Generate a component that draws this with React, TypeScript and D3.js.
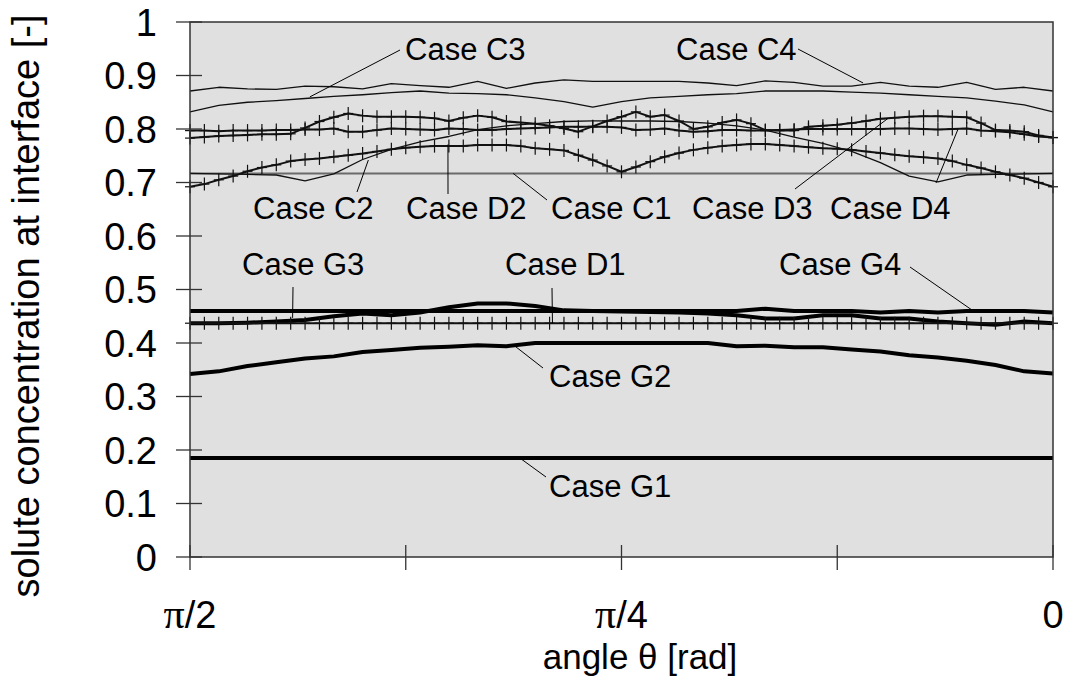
import React, { useRef, useEffect } from 'react';
import * as d3 from 'd3';

// angle grid in degrees (pi/2 on the left, 0 on the right)
const anglesFine = [90, 88.5, 87, 85.5, 84, 82.5, 81, 79.5, 78, 76.5, 75, 73.5, 72, 70.5, 69, 67.5, 66, 64.5, 63, 61.5,
  60, 58.5, 57, 55.5, 54, 52.5, 51, 49.5, 48, 46.5, 45, 43.5, 42, 40.5, 39, 37.5, 36, 34.5, 33, 31.5,
  30, 28.5, 27, 25.5, 24, 22.5, 21, 19.5, 18, 16.5, 15, 13.5, 12, 10.5, 9, 7.5, 6, 4.5, 3, 1.5, 0];
const anglesCoarse = [90, 87, 84, 81, 78, 75, 72, 69, 66, 63, 60, 57, 54, 51, 48, 45, 42, 39, 36, 33,
  30, 27, 24, 21, 18, 15, 12, 9, 6, 3, 0];

// thin lines (coarse grid)
const caseC1 = [0.717, 0.717, 0.717, 0.717, 0.717, 0.717, 0.717, 0.717, 0.717, 0.717, 0.717, 0.717, 0.717, 0.717, 0.717, 0.717,
  0.717, 0.717, 0.717, 0.717, 0.717, 0.717, 0.717, 0.717, 0.717, 0.717, 0.717, 0.717, 0.717, 0.717, 0.717];
const caseC2 = [0.717, 0.716, 0.715, 0.714, 0.703, 0.716, 0.743, 0.762, 0.776, 0.786, 0.799, 0.806, 0.810, 0.814, 0.815, 0.815,
  0.815, 0.814, 0.811, 0.806, 0.798, 0.785, 0.773, 0.758, 0.737, 0.712, 0.701, 0.714, 0.715, 0.716, 0.717];
const caseC3 = [0.832, 0.844, 0.850, 0.853, 0.857, 0.861, 0.864, 0.868, 0.871, 0.867, 0.866, 0.864, 0.858, 0.851, 0.841, 0.851,
  0.858, 0.861, 0.864, 0.866, 0.871, 0.871, 0.871, 0.869, 0.867, 0.864, 0.861, 0.858, 0.852, 0.845, 0.832];
const caseC4 = [0.871, 0.878, 0.875, 0.874, 0.880, 0.879, 0.875, 0.885, 0.881, 0.878, 0.889, 0.876, 0.886, 0.892, 0.889, 0.889,
  0.889, 0.889, 0.886, 0.881, 0.890, 0.887, 0.880, 0.880, 0.887, 0.880, 0.878, 0.887, 0.874, 0.878, 0.871];

// thick lines (coarse grid)
const caseG1 = [0.185, 0.185, 0.185, 0.185, 0.185, 0.185, 0.185, 0.185, 0.185, 0.185, 0.185, 0.185, 0.185, 0.185, 0.185, 0.185,
  0.185, 0.185, 0.185, 0.185, 0.185, 0.185, 0.185, 0.185, 0.185, 0.185, 0.185, 0.185, 0.185, 0.185, 0.185];
const caseG2 = [0.342, 0.347, 0.357, 0.364, 0.371, 0.375, 0.383, 0.387, 0.391, 0.393, 0.396, 0.394, 0.400, 0.400, 0.400, 0.400,
  0.400, 0.400, 0.400, 0.394, 0.395, 0.392, 0.392, 0.388, 0.384, 0.377, 0.373, 0.367, 0.359, 0.347, 0.343];
const caseG3 = [0.437, 0.437, 0.438, 0.440, 0.443, 0.450, 0.455, 0.452, 0.457, 0.467, 0.474, 0.474, 0.469, 0.461, 0.460, 0.459,
  0.458, 0.457, 0.455, 0.452, 0.446, 0.446, 0.452, 0.452, 0.446, 0.446, 0.440, 0.437, 0.434, 0.440, 0.437];
const caseG4 = [0.460, 0.460, 0.460, 0.460, 0.460, 0.460, 0.460, 0.460, 0.460, 0.460, 0.460, 0.460, 0.460, 0.460, 0.460, 0.460,
  0.460, 0.460, 0.460, 0.460, 0.464, 0.460, 0.460, 0.460, 0.457, 0.460, 0.457, 0.460, 0.460, 0.460, 0.457];

// lines with + markers (fine grid)
const caseD1 = [0.437, 0.437, 0.437, 0.437, 0.437, 0.437, 0.437, 0.437, 0.437, 0.437, 0.437, 0.437, 0.437, 0.437, 0.437, 0.437,
  0.437, 0.437, 0.437, 0.437, 0.437, 0.437, 0.437, 0.437, 0.437, 0.437, 0.437, 0.437, 0.437, 0.437, 0.437, 0.437,
  0.437, 0.437, 0.437, 0.437, 0.437, 0.437, 0.437, 0.437, 0.437, 0.437, 0.437, 0.437, 0.437, 0.437, 0.437, 0.437,
  0.437, 0.437, 0.437, 0.437, 0.437, 0.437, 0.437, 0.437, 0.437, 0.437, 0.437, 0.437, 0.437];
const caseD2 = [0.692, 0.697, 0.705, 0.712, 0.721, 0.728, 0.733, 0.740, 0.743, 0.745, 0.748, 0.751, 0.754, 0.758, 0.762, 0.765,
  0.767, 0.768, 0.768, 0.768, 0.770, 0.770, 0.770, 0.768, 0.764, 0.762, 0.760, 0.751, 0.742, 0.731, 0.720, 0.729,
  0.739, 0.748, 0.755, 0.761, 0.765, 0.768, 0.770, 0.772, 0.772, 0.770, 0.768, 0.766, 0.764, 0.763, 0.761, 0.758,
  0.755, 0.752, 0.749, 0.747, 0.745, 0.740, 0.733, 0.727, 0.720, 0.714, 0.708, 0.700, 0.692];
const caseD3 = [0.783, 0.785, 0.787, 0.788, 0.789, 0.790, 0.790, 0.791, 0.802, 0.814, 0.822, 0.829, 0.825, 0.823, 0.823, 0.823,
  0.822, 0.820, 0.815, 0.821, 0.825, 0.822, 0.814, 0.812, 0.810, 0.806, 0.801, 0.795, 0.805, 0.815, 0.823, 0.832,
  0.823, 0.826, 0.815, 0.800, 0.804, 0.812, 0.817, 0.810, 0.798, 0.797, 0.797, 0.804, 0.806, 0.808, 0.811, 0.815,
  0.819, 0.821, 0.823, 0.824, 0.824, 0.823, 0.822, 0.811, 0.798, 0.797, 0.795, 0.788, 0.784];
const caseD4 = [0.797, 0.797, 0.796, 0.797, 0.797, 0.797, 0.798, 0.798, 0.799, 0.799, 0.801, 0.795, 0.795, 0.798, 0.801, 0.800,
  0.799, 0.798, 0.801, 0.800, 0.798, 0.798, 0.800, 0.801, 0.802, 0.803, 0.804, 0.804, 0.804, 0.804, 0.803, 0.798,
  0.799, 0.801, 0.797, 0.795, 0.796, 0.798, 0.798, 0.797, 0.797, 0.798, 0.799, 0.800, 0.800, 0.800, 0.800, 0.800,
  0.800, 0.801, 0.801, 0.800, 0.799, 0.800, 0.801, 0.797, 0.796, 0.794, 0.790, 0.786, 0.784];

const yTicks = [0, 0.1, 0.2, 0.3, 0.4, 0.5, 0.6, 0.7, 0.8, 0.9, 1];
const yTickLabels = ['0', '0.1', '0.2', '0.3', '0.4', '0.5', '0.6', '0.7', '0.8', '0.9', '1'];
const xTicks = [90, 67.5, 45, 22.5, 0];
const xTickLabels = ['π/2', '', 'π/4', '', '0'];

const SANS = '"Liberation Sans", Arial, Helvetica, sans-serif';
const SERIF = '"Liberation Serif", "Times New Roman", serif';

const Chart = () => {
  const ref = useRef<SVGSVGElement>(null);

  useEffect(() => {
    if (!ref.current) return;
    const svg = d3.select(ref.current);
    svg.selectAll('*').remove();

    const left = 190, right = 1053, top = 22, bottom = 557;
    const x = d3.scaleLinear().domain([90, 0]).range([left, right]);
    const y = d3.scaleLinear().domain([0, 1]).range([bottom, top]);

    svg.append('rect')
      .attr('x', left).attr('y', top)
      .attr('width', right - left).attr('height', bottom - top)
      .attr('fill', '#e0e0e0');

    const line = (xs: number[]) => d3.line<number>()
      .x((_, i) => x(xs[i]))
      .y(d => y(d));

    const drawLine = (xs: number[], ys: number[], color: string, w: number) =>
      svg.append('path')
        .attr('d', line(xs)(ys))
        .attr('fill', 'none')
        .attr('stroke', color)
        .attr('stroke-width', w)
        .attr('stroke-linejoin', 'round');

    // thin C cases
    drawLine(anglesCoarse, caseC1, '#6a6a6a', 2);
    drawLine(anglesCoarse, caseC2, '#111', 1.3);
    drawLine(anglesCoarse, caseC3, '#111', 1.3);
    drawLine(anglesCoarse, caseC4, '#111', 1.3);

    // thick G cases
    drawLine(anglesCoarse, caseG1, '#000', 4);
    drawLine(anglesCoarse, caseG2, '#000', 4);
    drawLine(anglesCoarse, caseG3, '#000', 4);
    drawLine(anglesCoarse, caseG4, '#000', 4);

    // D cases with + markers
    [caseD1, caseD2, caseD3, caseD4].forEach(series => {
      drawLine(anglesFine, series, '#111', 2);
      const g = svg.append('g').attr('stroke', '#111').attr('stroke-width', 1.2);
      series.forEach((v, i) => {
        const cx = x(anglesFine[i]), cy = y(v);
        g.append('line').attr('x1', cx).attr('x2', cx).attr('y1', cy - 6.5).attr('y2', cy + 6.5);
        g.append('line').attr('x1', cx - 5).attr('x2', cx + 5).attr('y1', cy).attr('y2', cy);
      });
    });

    // frame
    svg.append('rect')
      .attr('x', left).attr('y', top)
      .attr('width', right - left).attr('height', bottom - top)
      .attr('fill', 'none').attr('stroke', '#333').attr('stroke-width', 1.5);

    // y ticks (crossing the axis)
    const yg = svg.append('g');
    yTicks.forEach((t, i) => {
      yg.append('line')
        .attr('x1', left - 14).attr('x2', left + 12)
        .attr('y1', y(t)).attr('y2', y(t))
        .attr('stroke', '#333').attr('stroke-width', 1.3);
      yg.append('text')
        .attr('x', 157).attr('y', y(t)).attr('dy', '0.36em')
        .attr('text-anchor', 'end')
        .attr('font-family', SANS).attr('font-size', 38)
        .attr('fill', '#000')
        .text(yTickLabels[i]);
    });

    // x ticks
    const xg = svg.append('g');
    xTicks.forEach((t, i) => {
      xg.append('line')
        .attr('x1', x(t)).attr('x2', x(t))
        .attr('y1', bottom - 12).attr('y2', bottom + 13)
        .attr('stroke', '#333').attr('stroke-width', 1.3);
      const lbl = xTickLabels[i];
      if (!lbl) return;
      const txt = xg.append('text')
        .attr('x', x(t)).attr('y', 628)
        .attr('text-anchor', 'middle')
        .attr('font-family', SANS).attr('font-size', 38)
        .attr('fill', '#000');
      if (lbl.startsWith('π')) {
        txt.append('tspan').attr('font-family', SERIF).attr('font-size', 42).text('π');
        txt.append('tspan').text(lbl.slice(1));
      } else {
        txt.text(lbl);
      }
    });

    // axis titles
    svg.append('text')
      .attr('x', 640).attr('y', 669)
      .attr('text-anchor', 'middle')
      .attr('font-family', SANS).attr('font-size', 35)
      .attr('fill', '#000')
      .text('angle θ [rad]');
    svg.append('text')
      .attr('transform', 'translate(39,306) rotate(-90)')
      .attr('text-anchor', 'middle')
      .attr('font-family', SANS).attr('font-size', 38)
      .attr('fill', '#000')
      .text('solute concentration at interface [-]');

    // case labels with leader lines; leader end sits on the curve (angle, value)
    const notes = [
      { text: 'Case C3', tx: 405, ty: 60, sx: 400, sy: 50, a: 77.5, v: 0.86 },
      { text: 'Case C4', tx: 676, ty: 60, sx: 798, sy: 49, a: 19.8, v: 0.886 },
      { text: 'Case C2', tx: 253, ty: 219, sx: 357, sy: 192, a: 71.4, v: 0.742 },
      { text: 'Case D2', tx: 406, ty: 219, sx: 448, sy: 194, a: 63.1, v: 0.771 },
      { text: 'Case C1', tx: 551, ty: 219, sx: 547, sy: 200, a: 56.3, v: 0.717 },
      { text: 'Case D3', tx: 692, ty: 219, sx: 795, sy: 189, a: 17.2, v: 0.82 },
      { text: 'Case D4', tx: 830, ty: 219, sx: 936, sy: 183, a: 9.9, v: 0.80 },
      { text: 'Case G3', tx: 242, ty: 275, sx: 293, sy: 287, a: 79.3, v: 0.447 },
      { text: 'Case D1', tx: 505, ty: 275, sx: 552, sy: 288, a: 52.2, v: 0.437 },
      { text: 'Case G4', tx: 779, ty: 275, sx: 910, sy: 267, a: 8.4, v: 0.461 },
      { text: 'Case G2', tx: 549, ty: 387, sx: 543, sy: 368, a: 56.1, v: 0.394 },
      { text: 'Case G1', tx: 549, ty: 497, sx: 546, sy: 477, a: 55.6, v: 0.185 },
    ];
    const ng = svg.append('g');
    notes.forEach(n => {
      ng.append('line')
        .attr('x1', n.sx).attr('y1', n.sy)
        .attr('x2', x(n.a)).attr('y2', y(n.v))
        .attr('stroke', '#000').attr('stroke-width', 1);
      ng.append('text')
        .attr('x', n.tx).attr('y', n.ty)
        .attr('font-family', SANS).attr('font-size', 31)
        .attr('fill', '#000')
        .text(n.text);
    });
  }, []);

  return (
    <svg ref={ref} width={1072} height={688}
      style={{ position: 'absolute', left: 0, top: 0, background: '#fff' }} />
  );
};

export default function App() {
  return <Chart />;
}
